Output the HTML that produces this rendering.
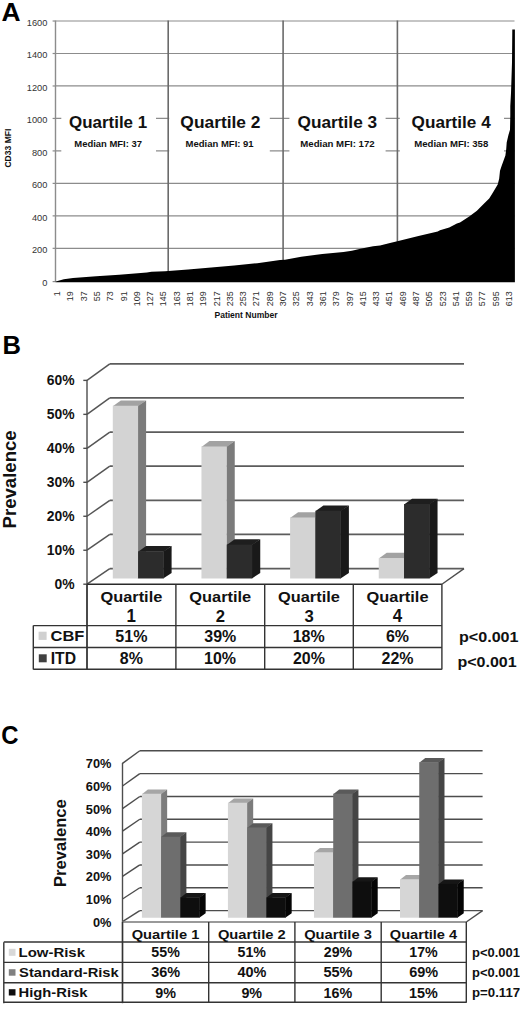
<!DOCTYPE html>
<html><head><meta charset="utf-8"><title>CD33 MFI figure</title>
<style>
html,body{margin:0;padding:0;background:#fff;width:520px;height:1013px;overflow:hidden}
svg{display:block}
text{font-family:"Liberation Sans",sans-serif}
</style></head><body>
<svg width="520" height="1013" viewBox="0 0 520 1013">
<rect width="520" height="1013" fill="#fff"/>
<text x="1.54" y="20.70" font-size="25.87" font-weight="bold" fill="#000" textLength="19.05" lengthAdjust="spacingAndGlyphs">A</text>
<line x1="55.5" y1="248.33" x2="514.5" y2="248.33" stroke="#8c8c8c" stroke-width="1.2"/>
<line x1="55.5" y1="215.86" x2="514.5" y2="215.86" stroke="#8c8c8c" stroke-width="1.2"/>
<line x1="55.5" y1="183.38" x2="514.5" y2="183.38" stroke="#8c8c8c" stroke-width="1.2"/>
<line x1="55.5" y1="150.91" x2="514.5" y2="150.91" stroke="#8c8c8c" stroke-width="1.2"/>
<line x1="55.5" y1="118.44" x2="514.5" y2="118.44" stroke="#8c8c8c" stroke-width="1.2"/>
<line x1="55.5" y1="85.97" x2="514.5" y2="85.97" stroke="#8c8c8c" stroke-width="1.2"/>
<line x1="55.5" y1="53.50" x2="514.5" y2="53.50" stroke="#8c8c8c" stroke-width="1.2"/>
<line x1="55.5" y1="21.02" x2="514.5" y2="21.02" stroke="#8c8c8c" stroke-width="1.2"/>
<line x1="52.6" y1="281.60" x2="55.5" y2="281.60" stroke="#8c8c8c" stroke-width="1.2"/>
<line x1="52.6" y1="248.33" x2="55.5" y2="248.33" stroke="#8c8c8c" stroke-width="1.2"/>
<line x1="52.6" y1="215.86" x2="55.5" y2="215.86" stroke="#8c8c8c" stroke-width="1.2"/>
<line x1="52.6" y1="183.38" x2="55.5" y2="183.38" stroke="#8c8c8c" stroke-width="1.2"/>
<line x1="52.6" y1="150.91" x2="55.5" y2="150.91" stroke="#8c8c8c" stroke-width="1.2"/>
<line x1="52.6" y1="118.44" x2="55.5" y2="118.44" stroke="#8c8c8c" stroke-width="1.2"/>
<line x1="52.6" y1="85.97" x2="55.5" y2="85.97" stroke="#8c8c8c" stroke-width="1.2"/>
<line x1="52.6" y1="53.50" x2="55.5" y2="53.50" stroke="#8c8c8c" stroke-width="1.2"/>
<line x1="52.6" y1="21.02" x2="55.5" y2="21.02" stroke="#8c8c8c" stroke-width="1.2"/>
<line x1="55.5" y1="20.42" x2="55.5" y2="282" stroke="#8c8c8c" stroke-width="1.4"/>
<text x="42.21" y="286.35" font-size="8.90" font-weight="normal" fill="#333" textLength="5.15" lengthAdjust="spacingAndGlyphs">0</text>
<text x="31.92" y="253.08" font-size="8.90" font-weight="normal" fill="#333" textLength="15.44" lengthAdjust="spacingAndGlyphs">200</text>
<text x="31.92" y="220.61" font-size="8.90" font-weight="normal" fill="#333" textLength="15.44" lengthAdjust="spacingAndGlyphs">400</text>
<text x="31.92" y="188.13" font-size="8.90" font-weight="normal" fill="#333" textLength="15.44" lengthAdjust="spacingAndGlyphs">600</text>
<text x="31.92" y="155.66" font-size="8.90" font-weight="normal" fill="#333" textLength="15.44" lengthAdjust="spacingAndGlyphs">800</text>
<text x="26.77" y="123.19" font-size="8.90" font-weight="normal" fill="#333" textLength="20.59" lengthAdjust="spacingAndGlyphs">1000</text>
<text x="26.77" y="90.72" font-size="8.90" font-weight="normal" fill="#333" textLength="20.59" lengthAdjust="spacingAndGlyphs">1200</text>
<text x="26.77" y="58.25" font-size="8.90" font-weight="normal" fill="#333" textLength="20.59" lengthAdjust="spacingAndGlyphs">1400</text>
<text x="26.77" y="25.77" font-size="8.90" font-weight="normal" fill="#333" textLength="20.59" lengthAdjust="spacingAndGlyphs">1600</text>
<line x1="168.2" y1="20.42" x2="168.2" y2="281.5" stroke="#6a6a6a" stroke-width="1.6"/>
<line x1="283.1" y1="20.42" x2="283.1" y2="281.5" stroke="#6a6a6a" stroke-width="1.6"/>
<line x1="397.4" y1="20.42" x2="397.4" y2="281.5" stroke="#6a6a6a" stroke-width="1.6"/>
<rect x="61.3" y="100" width="94.7" height="60" fill="#fff"/>
<rect x="169.2" y="100" width="100.6" height="60" fill="#fff"/>
<rect x="289.4" y="100" width="96.2" height="60" fill="#fff"/>
<rect x="399.8" y="100" width="104.2" height="60" fill="#fff"/>
<text x="69.00" y="127.50" font-size="16.15" font-weight="bold" fill="#111" textLength="78.17" lengthAdjust="spacingAndGlyphs">Quartile 1</text>
<text x="180.39" y="127.50" font-size="16.15" font-weight="bold" fill="#111" textLength="80.11" lengthAdjust="spacingAndGlyphs">Quartile 2</text>
<text x="297.59" y="127.50" font-size="16.15" font-weight="bold" fill="#111" textLength="79.53" lengthAdjust="spacingAndGlyphs">Quartile 3</text>
<text x="411.60" y="127.50" font-size="16.15" font-weight="bold" fill="#111" textLength="79.10" lengthAdjust="spacingAndGlyphs">Quartile 4</text>
<text x="74.27" y="146.90" font-size="8.28" font-weight="bold" fill="#111" textLength="67.75" lengthAdjust="spacingAndGlyphs">Median MFI: 37</text>
<text x="185.56" y="146.90" font-size="8.28" font-weight="bold" fill="#111" textLength="68.10" lengthAdjust="spacingAndGlyphs">Median MFI: 91</text>
<text x="300.26" y="146.90" font-size="8.28" font-weight="bold" fill="#111" textLength="74.43" lengthAdjust="spacingAndGlyphs">Median MFI: 172</text>
<text x="414.26" y="146.90" font-size="8.28" font-weight="bold" fill="#111" textLength="74.04" lengthAdjust="spacingAndGlyphs">Median MFI: 358</text>
<polygon fill="#000" points="55.5,282.0 55.8,281.5 63.8,279.2 73.0,278.1 96.2,276.2 119.2,274.8 146.9,272.5 151.5,271.8 165.0,271.2 188.1,269.6 211.2,267.5 234.2,265.5 257.3,263.2 280.0,259.9 285.0,259.7 301.2,256.7 322.3,254.0 343.5,251.9 351.9,250.8 360.4,248.7 373.1,246.2 380.0,245.4 390.0,243.0 397.3,241.2 418.5,236.0 437.7,231.5 440.0,230.3 449.2,227.5 456.9,223.5 460.0,222.6 464.6,219.5 469.2,216.6 476.9,210.8 483.1,204.6 489.2,198.5 493.1,192.3 497.7,184.6 499.2,178.5 500.0,170.8 501.5,166.2 505.4,155.4 506.2,149.2 506.7,142.6 508.5,134.7 510.0,129.8 510.3,115.0 510.3,105.9 511.0,93.0 512.0,62.4 512.3,29.4 514.9,29.4 514.9,282.2 55.5,282.2"/>
<text transform="translate(60.10,291.6) rotate(-90) scale(1.000,1)" x="-4.57" y="0" font-size="9.00" fill="#2e2e2e">1</text>
<text transform="translate(73.43,291.6) rotate(-90) scale(1.000,1)" x="-9.58" y="0" font-size="9.00" fill="#2e2e2e">19</text>
<text transform="translate(86.72,291.6) rotate(-90) scale(1.000,1)" x="-9.56" y="0" font-size="9.00" fill="#2e2e2e">37</text>
<text transform="translate(99.97,291.6) rotate(-90) scale(1.000,1)" x="-9.63" y="0" font-size="9.00" fill="#2e2e2e">55</text>
<text transform="translate(113.30,291.6) rotate(-90) scale(1.000,1)" x="-9.62" y="0" font-size="9.00" fill="#2e2e2e">73</text>
<text transform="translate(126.59,291.6) rotate(-90) scale(1.000,1)" x="-9.57" y="0" font-size="9.00" fill="#2e2e2e">91</text>
<text transform="translate(139.88,291.6) rotate(-90) scale(1.000,1)" x="-14.59" y="0" font-size="9.00" fill="#2e2e2e">109</text>
<text transform="translate(153.17,291.6) rotate(-90) scale(1.000,1)" x="-14.56" y="0" font-size="9.00" fill="#2e2e2e">127</text>
<text transform="translate(166.42,291.6) rotate(-90) scale(1.000,1)" x="-14.64" y="0" font-size="9.00" fill="#2e2e2e">145</text>
<text transform="translate(179.75,291.6) rotate(-90) scale(1.000,1)" x="-14.62" y="0" font-size="9.00" fill="#2e2e2e">163</text>
<text transform="translate(193.04,291.6) rotate(-90) scale(1.000,1)" x="-14.58" y="0" font-size="9.00" fill="#2e2e2e">181</text>
<text transform="translate(206.33,291.6) rotate(-90) scale(1.000,1)" x="-14.59" y="0" font-size="9.00" fill="#2e2e2e">199</text>
<text transform="translate(219.62,291.6) rotate(-90) scale(1.000,1)" x="-14.56" y="0" font-size="9.00" fill="#2e2e2e">217</text>
<text transform="translate(232.91,291.6) rotate(-90) scale(1.000,1)" x="-14.64" y="0" font-size="9.00" fill="#2e2e2e">235</text>
<text transform="translate(246.20,291.6) rotate(-90) scale(1.000,1)" x="-14.62" y="0" font-size="9.00" fill="#2e2e2e">253</text>
<text transform="translate(259.49,291.6) rotate(-90) scale(1.000,1)" x="-14.58" y="0" font-size="9.00" fill="#2e2e2e">271</text>
<text transform="translate(272.78,291.6) rotate(-90) scale(1.000,1)" x="-14.59" y="0" font-size="9.00" fill="#2e2e2e">289</text>
<text transform="translate(286.07,291.6) rotate(-90) scale(1.000,1)" x="-14.56" y="0" font-size="9.00" fill="#2e2e2e">307</text>
<text transform="translate(299.36,291.6) rotate(-90) scale(1.000,1)" x="-14.64" y="0" font-size="9.00" fill="#2e2e2e">325</text>
<text transform="translate(312.65,291.6) rotate(-90) scale(1.000,1)" x="-14.62" y="0" font-size="9.00" fill="#2e2e2e">343</text>
<text transform="translate(325.94,291.6) rotate(-90) scale(1.000,1)" x="-14.58" y="0" font-size="9.00" fill="#2e2e2e">361</text>
<text transform="translate(339.23,291.6) rotate(-90) scale(1.000,1)" x="-14.59" y="0" font-size="9.00" fill="#2e2e2e">379</text>
<text transform="translate(352.52,291.6) rotate(-90) scale(1.000,1)" x="-14.56" y="0" font-size="9.00" fill="#2e2e2e">397</text>
<text transform="translate(365.77,291.6) rotate(-90) scale(1.000,1)" x="-14.64" y="0" font-size="9.00" fill="#2e2e2e">415</text>
<text transform="translate(379.10,291.6) rotate(-90) scale(1.000,1)" x="-14.62" y="0" font-size="9.00" fill="#2e2e2e">433</text>
<text transform="translate(392.35,291.6) rotate(-90) scale(1.000,1)" x="-14.58" y="0" font-size="9.00" fill="#2e2e2e">451</text>
<text transform="translate(405.68,291.6) rotate(-90) scale(1.000,1)" x="-14.59" y="0" font-size="9.00" fill="#2e2e2e">469</text>
<text transform="translate(418.97,291.6) rotate(-90) scale(1.000,1)" x="-14.56" y="0" font-size="9.00" fill="#2e2e2e">487</text>
<text transform="translate(432.26,291.6) rotate(-90) scale(1.000,1)" x="-14.64" y="0" font-size="9.00" fill="#2e2e2e">505</text>
<text transform="translate(445.55,291.6) rotate(-90) scale(1.000,1)" x="-14.62" y="0" font-size="9.00" fill="#2e2e2e">523</text>
<text transform="translate(458.80,291.6) rotate(-90) scale(1.000,1)" x="-14.58" y="0" font-size="9.00" fill="#2e2e2e">541</text>
<text transform="translate(472.13,291.6) rotate(-90) scale(1.000,1)" x="-14.59" y="0" font-size="9.00" fill="#2e2e2e">559</text>
<text transform="translate(485.38,291.6) rotate(-90) scale(1.000,1)" x="-14.56" y="0" font-size="9.00" fill="#2e2e2e">577</text>
<text transform="translate(498.71,291.6) rotate(-90) scale(1.000,1)" x="-14.64" y="0" font-size="9.00" fill="#2e2e2e">595</text>
<text transform="translate(512.00,291.6) rotate(-90) scale(1.000,1)" x="-14.62" y="0" font-size="9.00" fill="#2e2e2e">613</text>
<text x="214.43" y="317.50" font-size="8.69" font-weight="bold" fill="#111" textLength="63.20" lengthAdjust="spacingAndGlyphs">Patient Number</text>
<text transform="translate(11.1,167.2) rotate(-90)" x="-0.35" y="0" font-size="8.60" font-weight="bold" fill="#111" textLength="38.92" lengthAdjust="spacingAndGlyphs">CD33 MFI</text>
<text x="2.59" y="353.80" font-size="25.87" font-weight="bold" fill="#000" textLength="18.47" lengthAdjust="spacingAndGlyphs">B</text>
<line x1="83.30" y1="584.20" x2="87.00" y2="584.20" stroke="#4d4d4d" stroke-width="1.40"/>
<line x1="87.00" y1="584.20" x2="109.80" y2="568.60" stroke="#555" stroke-width="1.50"/>
<line x1="109.80" y1="568.60" x2="464.00" y2="568.60" stroke="#5c5c5c" stroke-width="1.70"/>
<line x1="83.30" y1="550.23" x2="87.00" y2="550.23" stroke="#4d4d4d" stroke-width="1.40"/>
<line x1="87.00" y1="550.23" x2="109.80" y2="534.47" stroke="#555" stroke-width="1.50"/>
<line x1="109.80" y1="534.47" x2="464.00" y2="534.47" stroke="#5c5c5c" stroke-width="1.70"/>
<line x1="83.30" y1="516.26" x2="87.00" y2="516.26" stroke="#4d4d4d" stroke-width="1.40"/>
<line x1="87.00" y1="516.26" x2="109.80" y2="500.34" stroke="#555" stroke-width="1.50"/>
<line x1="109.80" y1="500.34" x2="464.00" y2="500.34" stroke="#5c5c5c" stroke-width="1.70"/>
<line x1="83.30" y1="482.29" x2="87.00" y2="482.29" stroke="#4d4d4d" stroke-width="1.40"/>
<line x1="87.00" y1="482.29" x2="109.80" y2="466.21" stroke="#555" stroke-width="1.50"/>
<line x1="109.80" y1="466.21" x2="464.00" y2="466.21" stroke="#5c5c5c" stroke-width="1.70"/>
<line x1="83.30" y1="448.32" x2="87.00" y2="448.32" stroke="#4d4d4d" stroke-width="1.40"/>
<line x1="87.00" y1="448.32" x2="109.80" y2="432.08" stroke="#555" stroke-width="1.50"/>
<line x1="109.80" y1="432.08" x2="464.00" y2="432.08" stroke="#5c5c5c" stroke-width="1.70"/>
<line x1="83.30" y1="414.35" x2="87.00" y2="414.35" stroke="#4d4d4d" stroke-width="1.40"/>
<line x1="87.00" y1="414.35" x2="109.80" y2="397.95" stroke="#555" stroke-width="1.50"/>
<line x1="109.80" y1="397.95" x2="464.00" y2="397.95" stroke="#5c5c5c" stroke-width="1.70"/>
<line x1="83.30" y1="380.38" x2="87.00" y2="380.38" stroke="#4d4d4d" stroke-width="1.40"/>
<line x1="87.00" y1="380.38" x2="109.80" y2="363.82" stroke="#555" stroke-width="1.50"/>
<line x1="109.80" y1="363.82" x2="464.00" y2="363.82" stroke="#5c5c5c" stroke-width="1.70"/>
<line x1="87.00" y1="379.88" x2="87.00" y2="669.80" stroke="#4d4d4d" stroke-width="1.40"/>
<line x1="87.00" y1="584.20" x2="441.90" y2="584.20" stroke="#2a2a2a" stroke-width="1.40"/>
<line x1="441.90" y1="584.20" x2="464.00" y2="568.60" stroke="#4d4d4d" stroke-width="1.40"/>
<polygon fill="#7b7b7b" points="137.70,405.87 146.10,400.47 146.10,573.10 137.70,578.50"/>
<polygon fill="#a2a2a2" points="112.80,406.26 138.10,406.26 146.10,400.47 120.80,400.47"/>
<polygon fill="#d3d3d3" points="112.80,405.87 138.10,405.87 138.10,578.50 112.80,578.50"/>
<polygon fill="#191919" points="163.20,551.42 171.60,546.02 171.60,573.10 163.20,578.50"/>
<polygon fill="#1e1e1e" points="138.10,551.82 163.60,551.82 171.60,546.02 146.10,546.02"/>
<polygon fill="#2c2c2c" points="138.10,551.42 163.60,551.42 163.60,578.50 138.10,578.50"/>
<polygon fill="#7b7b7b" points="226.35,446.49 234.75,441.09 234.75,573.10 226.35,578.50"/>
<polygon fill="#a2a2a2" points="201.45,446.88 226.75,446.88 234.75,441.09 209.45,441.09"/>
<polygon fill="#d3d3d3" points="201.45,446.49 226.75,446.49 226.75,578.50 201.45,578.50"/>
<polygon fill="#191919" points="251.85,544.65 260.25,539.25 260.25,573.10 251.85,578.50"/>
<polygon fill="#1e1e1e" points="226.75,545.05 252.25,545.05 260.25,539.25 234.75,539.25"/>
<polygon fill="#2c2c2c" points="226.75,544.65 252.25,544.65 252.25,578.50 226.75,578.50"/>
<polygon fill="#7b7b7b" points="315.00,517.57 323.40,512.17 323.40,573.10 315.00,578.50"/>
<polygon fill="#a2a2a2" points="290.10,517.97 315.40,517.97 323.40,512.17 298.10,512.17"/>
<polygon fill="#d3d3d3" points="290.10,517.57 315.40,517.57 315.40,578.50 290.10,578.50"/>
<polygon fill="#191919" points="340.50,510.80 348.90,505.40 348.90,573.10 340.50,578.50"/>
<polygon fill="#1e1e1e" points="315.40,511.20 340.90,511.20 348.90,505.40 323.40,505.40"/>
<polygon fill="#2c2c2c" points="315.40,510.80 340.90,510.80 340.90,578.50 315.40,578.50"/>
<polygon fill="#7b7b7b" points="403.65,558.19 412.05,552.79 412.05,573.10 403.65,578.50"/>
<polygon fill="#a2a2a2" points="378.75,558.59 404.05,558.59 412.05,552.79 386.75,552.79"/>
<polygon fill="#d3d3d3" points="378.75,558.19 404.05,558.19 404.05,578.50 378.75,578.50"/>
<polygon fill="#191919" points="429.15,504.03 437.55,498.63 437.55,573.10 429.15,578.50"/>
<polygon fill="#1e1e1e" points="404.05,504.43 429.55,504.43 437.55,498.63 412.05,498.63"/>
<polygon fill="#2c2c2c" points="404.05,504.03 429.55,504.03 429.55,578.50 404.05,578.50"/>
<text x="54.59" y="589.05" font-size="13.89" font-weight="bold" fill="#111" textLength="20.08" lengthAdjust="spacingAndGlyphs">0%</text>
<text x="46.86" y="555.08" font-size="13.89" font-weight="bold" fill="#111" textLength="27.80" lengthAdjust="spacingAndGlyphs">10%</text>
<text x="46.86" y="521.11" font-size="13.89" font-weight="bold" fill="#111" textLength="27.80" lengthAdjust="spacingAndGlyphs">20%</text>
<text x="46.86" y="487.14" font-size="13.89" font-weight="bold" fill="#111" textLength="27.80" lengthAdjust="spacingAndGlyphs">30%</text>
<text x="46.86" y="453.17" font-size="13.89" font-weight="bold" fill="#111" textLength="27.80" lengthAdjust="spacingAndGlyphs">40%</text>
<text x="46.86" y="419.20" font-size="13.89" font-weight="bold" fill="#111" textLength="27.80" lengthAdjust="spacingAndGlyphs">50%</text>
<text x="46.86" y="385.23" font-size="13.89" font-weight="bold" fill="#111" textLength="27.80" lengthAdjust="spacingAndGlyphs">60%</text>
<text transform="translate(16.00,527.20) rotate(-90)" x="-1.24" y="0" font-size="18.35" font-weight="bold" fill="#111" textLength="98.08" lengthAdjust="spacingAndGlyphs">Prevalence</text>
<line x1="87.00" y1="584.20" x2="87.00" y2="669.60" stroke="#333" stroke-width="1.40"/>
<line x1="175.90" y1="584.20" x2="175.90" y2="669.60" stroke="#333" stroke-width="1.40"/>
<line x1="264.70" y1="584.20" x2="264.70" y2="669.60" stroke="#333" stroke-width="1.40"/>
<line x1="353.30" y1="584.20" x2="353.30" y2="669.60" stroke="#333" stroke-width="1.40"/>
<line x1="441.90" y1="584.20" x2="441.90" y2="669.60" stroke="#333" stroke-width="1.40"/>
<line x1="33.30" y1="625.60" x2="33.30" y2="669.60" stroke="#333" stroke-width="1.40"/>
<line x1="33.30" y1="625.60" x2="441.90" y2="625.60" stroke="#333" stroke-width="1.40"/>
<line x1="33.30" y1="647.50" x2="441.90" y2="647.50" stroke="#333" stroke-width="1.40"/>
<line x1="33.30" y1="669.20" x2="441.90" y2="669.20" stroke="#333" stroke-width="1.40"/>
<text x="100.43" y="602.30" font-size="15.04" font-weight="bold" fill="#111" textLength="61.93" lengthAdjust="spacingAndGlyphs">Quartile</text>
<text x="126.45" y="621.80" font-size="17.44" font-weight="bold" fill="#111" textLength="9.41" lengthAdjust="spacingAndGlyphs">1</text>
<text x="115.37" y="641.90" font-size="16.53" font-weight="bold" fill="#111" textLength="32.09" lengthAdjust="spacingAndGlyphs">51%</text>
<text x="119.86" y="664.30" font-size="16.47" font-weight="bold" fill="#111" textLength="23.09" lengthAdjust="spacingAndGlyphs">8%</text>
<text x="189.28" y="602.30" font-size="15.04" font-weight="bold" fill="#111" textLength="61.93" lengthAdjust="spacingAndGlyphs">Quartile</text>
<text x="215.71" y="621.80" font-size="17.19" font-weight="bold" fill="#111" textLength="9.27" lengthAdjust="spacingAndGlyphs">2</text>
<text x="204.34" y="641.90" font-size="16.47" font-weight="bold" fill="#111" textLength="31.98" lengthAdjust="spacingAndGlyphs">39%</text>
<text x="204.02" y="664.30" font-size="16.47" font-weight="bold" fill="#111" textLength="31.98" lengthAdjust="spacingAndGlyphs">10%</text>
<text x="277.98" y="602.30" font-size="15.04" font-weight="bold" fill="#111" textLength="61.93" lengthAdjust="spacingAndGlyphs">Quartile</text>
<text x="304.47" y="621.80" font-size="17.19" font-weight="bold" fill="#111" textLength="9.27" lengthAdjust="spacingAndGlyphs">3</text>
<text x="292.72" y="641.90" font-size="16.47" font-weight="bold" fill="#111" textLength="31.98" lengthAdjust="spacingAndGlyphs">18%</text>
<text x="292.95" y="664.30" font-size="16.47" font-weight="bold" fill="#111" textLength="31.98" lengthAdjust="spacingAndGlyphs">20%</text>
<text x="366.58" y="602.30" font-size="15.04" font-weight="bold" fill="#111" textLength="61.93" lengthAdjust="spacingAndGlyphs">Quartile</text>
<text x="392.81" y="621.80" font-size="17.44" font-weight="bold" fill="#111" textLength="9.41" lengthAdjust="spacingAndGlyphs">4</text>
<text x="385.97" y="641.90" font-size="16.47" font-weight="bold" fill="#111" textLength="23.09" lengthAdjust="spacingAndGlyphs">6%</text>
<text x="381.55" y="664.30" font-size="16.47" font-weight="bold" fill="#111" textLength="31.98" lengthAdjust="spacingAndGlyphs">22%</text>
<rect x="38.6" y="631.7" width="8" height="8.2" fill="#d0d0d0"/>
<rect x="38.8" y="654.3" width="7.9" height="8" fill="#404040"/>
<text x="50.53" y="641.10" font-size="15.47" font-weight="bold" fill="#111" textLength="33.78" lengthAdjust="spacingAndGlyphs">CBF</text>
<text x="50.75" y="663.70" font-size="15.70" font-weight="bold" fill="#111" textLength="25.31" lengthAdjust="spacingAndGlyphs">ITD</text>
<text x="458.94" y="641.90" font-size="15.25" font-weight="bold" fill="#111" textLength="59.61" lengthAdjust="spacingAndGlyphs">p&lt;0.001</text>
<text x="457.44" y="666.50" font-size="14.68" font-weight="bold" fill="#111" textLength="59.25" lengthAdjust="spacingAndGlyphs">p&lt;0.001</text>
<text x="1.32" y="744.30" font-size="26.50" font-weight="bold" fill="#000" textLength="17.23" lengthAdjust="spacingAndGlyphs">C</text>
<line x1="122.50" y1="921.60" x2="139.80" y2="910.60" stroke="#4d4d4d" stroke-width="1.40"/>
<line x1="139.80" y1="910.60" x2="482.60" y2="910.60" stroke="#4d4d4d" stroke-width="1.40"/>
<line x1="122.50" y1="899.00" x2="139.80" y2="887.77" stroke="#4d4d4d" stroke-width="1.40"/>
<line x1="139.80" y1="887.77" x2="482.60" y2="887.77" stroke="#4d4d4d" stroke-width="1.40"/>
<line x1="122.50" y1="876.40" x2="139.80" y2="864.94" stroke="#4d4d4d" stroke-width="1.40"/>
<line x1="139.80" y1="864.94" x2="482.60" y2="864.94" stroke="#4d4d4d" stroke-width="1.40"/>
<line x1="122.50" y1="853.80" x2="139.80" y2="842.11" stroke="#4d4d4d" stroke-width="1.40"/>
<line x1="139.80" y1="842.11" x2="482.60" y2="842.11" stroke="#4d4d4d" stroke-width="1.40"/>
<line x1="122.50" y1="831.20" x2="139.80" y2="819.28" stroke="#4d4d4d" stroke-width="1.40"/>
<line x1="139.80" y1="819.28" x2="482.60" y2="819.28" stroke="#4d4d4d" stroke-width="1.40"/>
<line x1="122.50" y1="808.60" x2="139.80" y2="796.45" stroke="#4d4d4d" stroke-width="1.40"/>
<line x1="139.80" y1="796.45" x2="482.60" y2="796.45" stroke="#4d4d4d" stroke-width="1.40"/>
<line x1="122.50" y1="786.00" x2="139.80" y2="773.62" stroke="#4d4d4d" stroke-width="1.40"/>
<line x1="139.80" y1="773.62" x2="482.60" y2="773.62" stroke="#4d4d4d" stroke-width="1.40"/>
<line x1="122.50" y1="763.40" x2="139.80" y2="750.79" stroke="#4d4d4d" stroke-width="1.40"/>
<line x1="139.80" y1="750.79" x2="482.60" y2="750.79" stroke="#4d4d4d" stroke-width="1.40"/>
<line x1="122.50" y1="762.90" x2="122.50" y2="1003.20" stroke="#4d4d4d" stroke-width="1.40"/>
<line x1="122.50" y1="922.00" x2="466.30" y2="922.00" stroke="#777" stroke-width="1.50"/>
<line x1="466.30" y1="922.00" x2="482.60" y2="910.60" stroke="#4d4d4d" stroke-width="1.40"/>
<polygon fill="#7c7c7c" points="160.75,793.84 167.15,789.44 167.15,913.30 160.75,917.70"/>
<polygon fill="#a6a6a6" points="141.90,794.24 161.15,794.24 167.15,789.44 147.90,789.44"/>
<polygon fill="#d6d6d6" points="141.90,793.84 161.15,793.84 161.15,917.70 141.90,917.70"/>
<polygon fill="#454545" points="180.00,836.63 186.40,832.23 186.40,913.30 180.00,917.70"/>
<polygon fill="#5a5a5a" points="161.15,837.03 180.40,837.03 186.40,832.23 167.15,832.23"/>
<polygon fill="#6e6e6e" points="161.15,836.63 180.40,836.63 180.40,917.70 161.15,917.70"/>
<polygon fill="#050505" points="199.25,897.43 205.65,893.03 205.65,913.30 199.25,917.70"/>
<polygon fill="#161616" points="180.40,897.83 199.65,897.83 205.65,893.03 186.40,893.03"/>
<polygon fill="#0e0e0e" points="180.40,897.43 199.65,897.43 199.65,917.70 180.40,917.70"/>
<polygon fill="#7c7c7c" points="246.78,802.85 253.18,798.45 253.18,913.30 246.78,917.70"/>
<polygon fill="#a6a6a6" points="227.93,803.25 247.18,803.25 253.18,798.45 233.93,798.45"/>
<polygon fill="#d6d6d6" points="227.93,802.85 247.18,802.85 247.18,917.70 227.93,917.70"/>
<polygon fill="#454545" points="266.03,827.62 272.43,823.22 272.43,913.30 266.03,917.70"/>
<polygon fill="#5a5a5a" points="247.18,828.02 266.43,828.02 272.43,823.22 253.18,823.22"/>
<polygon fill="#6e6e6e" points="247.18,827.62 266.43,827.62 266.43,917.70 247.18,917.70"/>
<polygon fill="#050505" points="285.28,897.43 291.68,893.03 291.68,913.30 285.28,917.70"/>
<polygon fill="#161616" points="266.43,897.83 285.68,897.83 291.68,893.03 272.43,893.03"/>
<polygon fill="#0e0e0e" points="266.43,897.43 285.68,897.43 285.68,917.70 266.43,917.70"/>
<polygon fill="#7c7c7c" points="332.81,852.39 339.21,847.99 339.21,913.30 332.81,917.70"/>
<polygon fill="#a6a6a6" points="313.96,852.79 333.21,852.79 339.21,847.99 319.96,847.99"/>
<polygon fill="#d6d6d6" points="313.96,852.39 333.21,852.39 333.21,917.70 313.96,917.70"/>
<polygon fill="#454545" points="352.06,793.84 358.46,789.44 358.46,913.30 352.06,917.70"/>
<polygon fill="#5a5a5a" points="333.21,794.24 352.46,794.24 358.46,789.44 339.21,789.44"/>
<polygon fill="#6e6e6e" points="333.21,793.84 352.46,793.84 352.46,917.70 333.21,917.70"/>
<polygon fill="#050505" points="371.31,881.67 377.71,877.27 377.71,913.30 371.31,917.70"/>
<polygon fill="#161616" points="352.46,882.07 371.71,882.07 377.71,877.27 358.46,877.27"/>
<polygon fill="#0e0e0e" points="352.46,881.67 371.71,881.67 371.71,917.70 352.46,917.70"/>
<polygon fill="#7c7c7c" points="418.84,879.42 425.24,875.02 425.24,913.30 418.84,917.70"/>
<polygon fill="#a6a6a6" points="399.99,879.82 419.24,879.82 425.24,875.02 405.99,875.02"/>
<polygon fill="#d6d6d6" points="399.99,879.42 419.24,879.42 419.24,917.70 399.99,917.70"/>
<polygon fill="#454545" points="438.09,762.31 444.49,757.91 444.49,913.30 438.09,917.70"/>
<polygon fill="#5a5a5a" points="419.24,762.71 438.49,762.71 444.49,757.91 425.24,757.91"/>
<polygon fill="#6e6e6e" points="419.24,762.31 438.49,762.31 438.49,917.70 419.24,917.70"/>
<polygon fill="#050505" points="457.34,883.92 463.74,879.52 463.74,913.30 457.34,917.70"/>
<polygon fill="#161616" points="438.49,884.32 457.74,884.32 463.74,879.52 444.49,879.52"/>
<polygon fill="#0e0e0e" points="438.49,883.92 457.74,883.92 457.74,917.70 438.49,917.70"/>
<text x="92.96" y="926.55" font-size="13.32" font-weight="bold" fill="#111" textLength="18.48" lengthAdjust="spacingAndGlyphs">0%</text>
<text x="85.85" y="903.95" font-size="13.32" font-weight="bold" fill="#111" textLength="25.59" lengthAdjust="spacingAndGlyphs">10%</text>
<text x="85.85" y="881.35" font-size="13.32" font-weight="bold" fill="#111" textLength="25.59" lengthAdjust="spacingAndGlyphs">20%</text>
<text x="85.85" y="858.75" font-size="13.32" font-weight="bold" fill="#111" textLength="25.59" lengthAdjust="spacingAndGlyphs">30%</text>
<text x="85.85" y="836.15" font-size="13.32" font-weight="bold" fill="#111" textLength="25.59" lengthAdjust="spacingAndGlyphs">40%</text>
<text x="85.85" y="813.55" font-size="13.32" font-weight="bold" fill="#111" textLength="25.59" lengthAdjust="spacingAndGlyphs">50%</text>
<text x="85.85" y="790.95" font-size="13.32" font-weight="bold" fill="#111" textLength="25.59" lengthAdjust="spacingAndGlyphs">60%</text>
<text x="85.85" y="768.35" font-size="13.32" font-weight="bold" fill="#111" textLength="25.59" lengthAdjust="spacingAndGlyphs">70%</text>
<text transform="translate(66.20,885.90) rotate(-90)" x="-1.11" y="0" font-size="17.11" font-weight="bold" fill="#111" textLength="87.78" lengthAdjust="spacingAndGlyphs">Prevalence</text>
<line x1="122.50" y1="922.00" x2="122.50" y2="1002.80" stroke="#333" stroke-width="1.40"/>
<line x1="208.70" y1="922.00" x2="208.70" y2="1002.80" stroke="#333" stroke-width="1.40"/>
<line x1="294.90" y1="922.00" x2="294.90" y2="1002.80" stroke="#333" stroke-width="1.40"/>
<line x1="381.20" y1="922.00" x2="381.20" y2="1002.80" stroke="#333" stroke-width="1.40"/>
<line x1="466.30" y1="922.00" x2="466.30" y2="1002.80" stroke="#333" stroke-width="1.40"/>
<line x1="3.80" y1="942.30" x2="3.80" y2="1003.20" stroke="#333" stroke-width="1.40"/>
<line x1="3.80" y1="942.00" x2="466.30" y2="942.00" stroke="#333" stroke-width="1.40"/>
<line x1="3.80" y1="962.40" x2="466.30" y2="962.40" stroke="#333" stroke-width="1.40"/>
<line x1="3.80" y1="982.70" x2="466.30" y2="982.70" stroke="#333" stroke-width="1.40"/>
<line x1="3.80" y1="1002.30" x2="466.30" y2="1002.30" stroke="#333" stroke-width="1.40"/>
<text x="131.70" y="938.70" font-size="13.39" font-weight="bold" fill="#111" textLength="67.61" lengthAdjust="spacingAndGlyphs">Quartile 1</text>
<text x="151.33" y="957.30" font-size="14.23" font-weight="bold" fill="#111" textLength="28.48" lengthAdjust="spacingAndGlyphs">55%</text>
<text x="151.15" y="977.30" font-size="14.46" font-weight="bold" fill="#111" textLength="28.95" lengthAdjust="spacingAndGlyphs">36%</text>
<text x="155.19" y="997.60" font-size="14.32" font-weight="bold" fill="#111" textLength="20.70" lengthAdjust="spacingAndGlyphs">9%</text>
<text x="217.90" y="938.70" font-size="13.39" font-weight="bold" fill="#111" textLength="67.79" lengthAdjust="spacingAndGlyphs">Quartile 2</text>
<text x="237.53" y="957.30" font-size="14.23" font-weight="bold" fill="#111" textLength="28.48" lengthAdjust="spacingAndGlyphs">51%</text>
<text x="237.41" y="977.30" font-size="14.46" font-weight="bold" fill="#111" textLength="28.95" lengthAdjust="spacingAndGlyphs">40%</text>
<text x="241.39" y="997.60" font-size="14.32" font-weight="bold" fill="#111" textLength="20.70" lengthAdjust="spacingAndGlyphs">9%</text>
<text x="304.15" y="938.70" font-size="13.39" font-weight="bold" fill="#111" textLength="67.73" lengthAdjust="spacingAndGlyphs">Quartile 3</text>
<text x="323.80" y="957.30" font-size="14.18" font-weight="bold" fill="#111" textLength="28.38" lengthAdjust="spacingAndGlyphs">29%</text>
<text x="323.49" y="977.30" font-size="14.52" font-weight="bold" fill="#111" textLength="29.05" lengthAdjust="spacingAndGlyphs">55%</text>
<text x="323.46" y="997.60" font-size="14.32" font-weight="bold" fill="#111" textLength="28.66" lengthAdjust="spacingAndGlyphs">16%</text>
<text x="389.85" y="938.70" font-size="13.39" font-weight="bold" fill="#111" textLength="67.28" lengthAdjust="spacingAndGlyphs">Quartile 4</text>
<text x="409.25" y="957.30" font-size="14.23" font-weight="bold" fill="#111" textLength="28.48" lengthAdjust="spacingAndGlyphs">17%</text>
<text x="409.20" y="977.30" font-size="14.46" font-weight="bold" fill="#111" textLength="28.95" lengthAdjust="spacingAndGlyphs">69%</text>
<text x="409.10" y="997.60" font-size="14.37" font-weight="bold" fill="#111" textLength="28.76" lengthAdjust="spacingAndGlyphs">15%</text>
<rect x="8.8" y="948.8" width="6.7" height="7" fill="#d8d8d8"/>
<rect x="8.8" y="969.2" width="6.7" height="6.5" fill="#808080"/>
<rect x="8.8" y="989.2" width="6.7" height="6.3" fill="#0e0e0e"/>
<text x="18.50" y="956.80" font-size="13.25" font-weight="bold" fill="#111" textLength="66.49" lengthAdjust="spacingAndGlyphs">Low-Risk</text>
<text x="19.08" y="977.00" font-size="13.25" font-weight="bold" fill="#111" textLength="99.61" lengthAdjust="spacingAndGlyphs">Standard-Risk</text>
<text x="18.51" y="997.20" font-size="13.25" font-weight="bold" fill="#111" textLength="68.97" lengthAdjust="spacingAndGlyphs">High-Risk</text>
<text x="472.05" y="957.00" font-size="12.46" font-weight="bold" fill="#111" textLength="47.91" lengthAdjust="spacingAndGlyphs">p&lt;0.001</text>
<text x="472.05" y="977.00" font-size="12.17" font-weight="bold" fill="#111" textLength="47.91" lengthAdjust="spacingAndGlyphs">p&lt;0.001</text>
<text x="472.04" y="997.30" font-size="12.32" font-weight="bold" fill="#111" textLength="48.13" lengthAdjust="spacingAndGlyphs">p=0.117</text>
</svg>
</body></html>
